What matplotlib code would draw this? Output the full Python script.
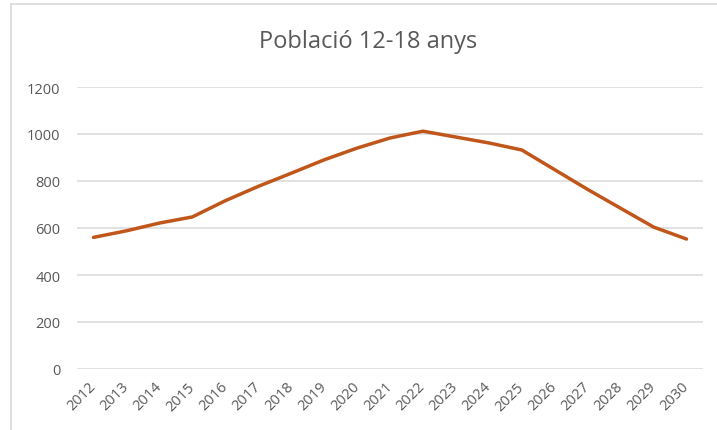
import matplotlib
matplotlib.use("Agg")
import matplotlib.pyplot as plt
from matplotlib.lines import Line2D

years = [str(y) for y in range(2012, 2031)]
values = [560, 588, 621, 647, 716, 777, 833, 890, 940, 983, 1012,
          987, 962, 932, 848, 764, 684, 604, 553]
yticks = [0, 200, 400, 600, 800, 1000, 1200]
title = "Població 12-18 anys"

plt.rcParams['font.family'] = ['Open Sans', 'DejaVu Sans']
text_col = '#595959'
grid_col = '#D9D9D9'
line_col = '#C0561A'

fig = plt.figure(figsize=(7.17, 4.31), dpi=100)
ax = fig.add_axes([77/717, 1-370/431, (703-77)/717, (370-88)/431])

x = list(range(len(years)))
ax.plot(x, values, color=line_col, lw=2.5, solid_capstyle='round', solid_joinstyle='round', zorder=3)

ax.set_xlim(-0.5, len(years) - 0.5)
ax.set_ylim(0, 1200)
ax.set_yticks(yticks)
ax.set_yticklabels([str(v) for v in yticks])
ax.set_xticks(x)
ax.set_xticklabels(years, rotation=45, ha='right', va='center', rotation_mode='anchor')

ax.grid(axis='y', color=grid_col, lw=1.1)
ax.set_axisbelow(True)
for s in ax.spines.values():
    s.set_visible(False)
ax.tick_params(axis='both', length=0, colors=text_col, labelsize=10.5)
ax.tick_params(axis='y', pad=12)
ax.tick_params(axis='x', pad=11)

fig.text(368/717, 1-42/431, title, ha='center', va='center', fontsize=17, color=text_col)

# chart border (top and left)
fig.add_artist(Line2D([11/717, 11/717], [0, 1-5/431], transform=fig.transFigure, color=grid_col, lw=1.2))
fig.add_artist(Line2D([11/717, 1], [1-5/431, 1-5/431], transform=fig.transFigure, color=grid_col, lw=1.2))

fig.savefig("out.png", dpi=100)
